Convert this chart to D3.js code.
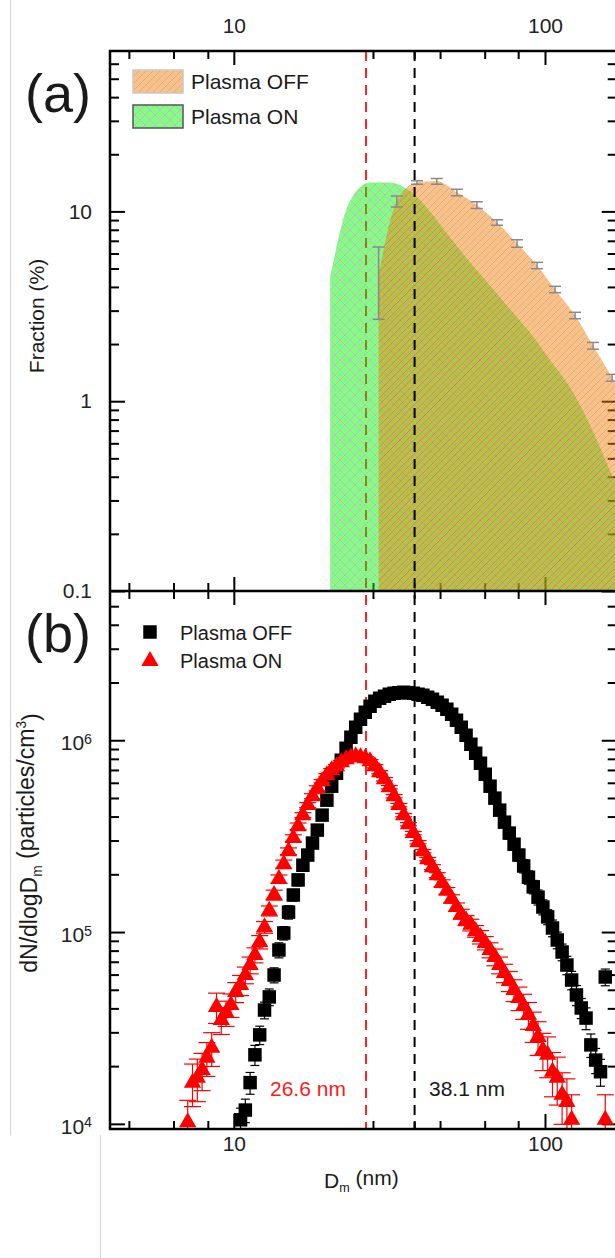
<!DOCTYPE html>
<html><head><meta charset="utf-8">
<script src="https://cdn.jsdelivr.net/npm/d3@7"></script>
<style>body{margin:0;background:#fff;} svg{display:block;font-family:"Liberation Sans",Arial,sans-serif;}</style>
</head><body><svg id="c" width="615" height="1258"></svg>
<script>
// ---------- DATA ----------
// Panel (a): size-resolved fraction (%)
const offFracD   = [29.2, 33.4, 38.8, 44.9, 52.1, 60.4, 70.1, 81.3, 94.3, 107.7, 124.9, 142.7, 164.3, 190];
const offFrac    = [4.6, 11.3, 14.2, 14.4, 12.6, 10.8, 8.75, 6.78, 5.19, 3.88, 2.83, 1.96, 1.33, 0.85];
const offFracErr = [1.9, 0.75, 0.3, 0.5, 0.5, 0.43, 0.3, 0.3, 0.2, 0.15, 0.11, 0.08, 0.055, 0.04];
const onFracD    = [20.4, 23.6, 27.4, 31.7, 36.8, 42.7, 49.5, 57.4, 66.6, 77.2, 89.5, 103.8, 120.4, 139.6, 161.8, 187.7];
const onFrac     = [4.5, 11.3, 14.2, 14.2, 12.8, 10.0, 7.3, 5.4, 4.07, 3.05, 2.3, 1.65, 1.18, 0.75, 0.43, 0.25];

// Panel (b): SMPS size bins (nm)
const sizeBins = [7.109,7.366,7.632,7.908,8.193,8.489,8.797,9.115,9.445,9.786,
  10.14,10.51,10.89,11.28,11.69,12.11,12.55,13.00,13.47,13.96,
  14.47,14.99,15.53,16.09,16.67,17.28,17.90,18.55,19.22,19.91,
  20.63,21.38,22.15,22.95,23.78,24.64,25.53,26.45,27.41,28.40,
  29.42,30.49,31.59,32.73,33.92,35.14,36.41,37.73,39.09,40.51,
  41.98,43.49,45.07,46.70,48.38,50.13,51.94,53.82,55.77,57.78,
  59.87,62.04,64.28,66.60,69.01,71.51,74.09,76.77,79.54,82.42,
  85.40,88.48,91.68,94.99,98.44,102.0,105.7,109.5,113.5,117.6,
  121.8,126.2,130.8,135.5,140.4,145.5,150.8,156.2];
// Plasma OFF dN/dlogDm (particles/cm3)
const offConc = [null,null,null,null,null,null,null,null,null,null,
  null,1.05e4,1.18e4,1.64e4,2.29e4,2.91e4,3.92e4,4.59e4,5.97e4,8.06e4,
  9.88e4,1.27e5,1.56e5,1.87e5,2.23e5,2.52e5,2.91e5,3.40e5,4.07e5,4.87e5,
  5.76e5,6.73e5,7.87e5,9.08e5,1.037e6,1.169e6,1.286e6,1.399e6,1.503e6,1.596e6,
  1.655e6,1.695e6,1.736e6,1.76e6,1.77e6,1.78e6,1.77e6,1.76e6,1.736e6,1.715e6,
  1.675e6,1.635e6,1.577e6,1.521e6,1.450e6,1.366e6,1.271e6,1.169e6,1.062e6,9.53e5,
  8.56e5,7.59e5,6.65e5,5.76e5,4.99e5,4.32e5,3.74e5,3.28e5,2.87e5,2.52e5,
  2.21e5,1.93e5,1.72e5,1.52e5,1.35e5,1.20e5,1.05e5,9.09e4,7.87e4,6.73e4,
  5.62e4,4.70e4,4.02e4,3.56e4,2.58e4,2.15e4,1.87e4,5.83e4];
const offRelErr = [null,null,null,null,null,null,null,null,null,null,
  null,0.15,0.14,0.13,0.12,0.11,0.10,0.10,0.09,0.09,
  0.08,0.08,0.07,0.07,0.06,0.06,0.05,0.05,0.04,0.04,
  0.03,0.03,0.03,0.02,0.02,0.02,0.02,0.02,0.02,0.02,
  0.02,0.02,0.02,0.02,0.02,0.02,0.02,0.02,0.02,0.02,
  0.02,0.02,0.02,0.02,0.03,0.03,0.03,0.03,0.04,0.04,
  0.04,0.05,0.05,0.05,0.06,0.06,0.06,0.07,0.07,0.07,
  0.08,0.08,0.08,0.09,0.09,0.09,0.10,0.10,0.10,0.11,
  0.11,0.12,0.12,0.13,0.14,0.15,0.16,0.10];
// Plasma ON dN/dlogDm (particles/cm3)
const onConc = [1.02e4,1.64e4,1.74e4,1.91e4,2.21e4,2.49e4,4.07e4,3.48e4,3.79e4,4.17e4,
  4.87e4,5.30e4,5.97e4,6.73e4,7.59e4,8.87e4,1.06e5,1.29e5,1.56e5,1.89e5,
  2.26e5,2.64e5,3.09e5,3.56e5,4.07e5,4.59e5,5.11e5,5.62e5,6.12e5,6.57e5,
  6.98e5,7.32e5,7.68e5,7.96e5,8.16e5,8.25e5,8.16e5,8.06e5,7.77e5,7.32e5,
  6.81e5,6.26e5,5.69e5,5.11e5,4.59e5,4.07e5,3.65e5,3.28e5,2.94e5,2.64e5,
  2.40e5,2.18e5,1.98e5,1.80e5,1.64e5,1.49e5,1.35e5,1.24e5,1.15e5,1.09e5,
  1.01e5,9.42e4,8.77e4,8.06e4,7.41e4,6.73e4,6.12e4,5.56e4,4.99e4,4.53e4,
  4.12e4,3.70e4,3.24e4,2.84e4,2.43e4,2.29e4,1.87e4,1.74e4,1.42e4,1.30e4,
  1.05e4,null,null,null,null,null,null,1.05e4];
const onRelErr = [0.30,0.25,0.25,0.22,0.20,0.20,0.18,0.16,0.15,0.14,
  0.12,0.12,0.10,0.10,0.09,0.08,0.07,0.06,0.06,0.05,
  0.05,0.04,0.04,0.04,0.03,0.03,0.03,0.03,0.02,0.02,
  0.02,0.02,0.02,0.02,0.02,0.02,0.02,0.02,0.02,0.02,
  0.02,0.02,0.02,0.02,0.02,0.02,0.02,0.02,0.02,0.02,
  0.02,0.03,0.03,0.04,0.04,0.05,0.05,0.06,0.06,0.07,
  0.07,0.08,0.08,0.09,0.10,0.10,0.11,0.12,0.13,0.14,
  0.15,0.16,0.18,0.20,0.22,0.24,0.26,0.28,0.30,0.32,
  0.35,null,null,null,null,null,null,0.35];

const peakOn = 26.6, peakOff = 38.1;
const peakOnLabel = "26.6 nm", peakOffLabel = "38.1 nm";
const xMajorTicks = [10, 100];
const xMinorTicks = [4.6, 6.4, 8.25, 28, 38, 46, 64, 82];
const fracTicks = [0.1, 1, 10];
const fracTickLabels = ["0.1", "1", "10"];
const concTicks = [1e4, 1e5, 1e6];
const seriesNames = ["Plasma OFF", "Plasma ON"];

// ---------- LAYOUT ----------
const L = 110, R = 616.7, aT = 51, mid = 591, bB = 1129;
const svg = d3.select("#c");
const defs = svg.append("defs");
const x = d3.scaleLog().domain([4, 170]).range([L, R]);
const yA = d3.scaleLog().domain([0.1, 70]).range([mid, aT]);
const yB = d3.scaleLog().domain([9.4e3, 6e6]).range([bB, mid]);

// screenshot frame lines
svg.append("line").attr("x1",10.5).attr("x2",10.5).attr("y1",0).attr("y2",1135).attr("stroke","#d4d4d4");
svg.append("line").attr("x1",100.5).attr("x2",100.5).attr("y1",1135).attr("y2",1258).attr("stroke","#d4d4d4");

defs.append("clipPath").attr("id","clipA").append("rect").attr("x",L).attr("y",aT).attr("width",R-L).attr("height",mid-aT);
defs.append("clipPath").attr("id","clipB").append("rect").attr("x",L).attr("y",mid).attr("width",R-L).attr("height",bB-mid);

const pO = defs.append("pattern").attr("id","patOff").attr("patternUnits","userSpaceOnUse").attr("width",7).attr("height",7);
pO.append("rect").attr("width",7).attr("height",7).attr("fill","#FF8000");
pO.append("path").attr("d","M-1,1 L1,-1 M0,7 L7,0 M6,8 L8,6").attr("stroke","#6c6c6c").attr("stroke-width",1);
const pG = defs.append("pattern").attr("id","patOn").attr("patternUnits","userSpaceOnUse").attr("width",10).attr("height",10);
pG.append("rect").attr("width",10).attr("height",10).attr("fill","#00FF00");
pG.append("path").attr("d","M0,0 L10,10 M10,0 L0,10").attr("stroke","#7a7a7a").attr("stroke-width",1);

// ---------- TICKS (drawn under areas) ----------
const tickStyle = g => { g.select(".domain").remove(); g.selectAll(".tick line").attr("stroke","#000").attr("stroke-width",2); g.selectAll("text").attr("fill","#222").attr("font-size",21); };
const minorA = [], minorB = [];
[0.1,1,10].forEach(d => [2,3,4,5,6,7,8,9].forEach(m => { if (d*m < 70) minorA.push(d*m); }));
[1e3,1e4,1e5,1e6].forEach(d => [2,3,4,5,6,7,8,9].forEach(m => { const v=d*m; if (v>9.4e3 && v<6e6) minorB.push(v); }));

// top axis (a)
svg.append("g").attr("transform",`translate(0,${aT})`).call(d3.axisTop(x).tickValues(xMajorTicks).tickSize(-14).tickFormat(d3.format("d"))).call(tickStyle)
  .selectAll("text").attr("y",-18);
svg.append("g").attr("transform",`translate(0,${aT})`).call(d3.axisTop(x).tickValues(xMinorTicks).tickSize(-8).tickFormat("")).call(tickStyle);
// bottom of (a)
svg.append("g").attr("transform",`translate(0,${mid})`).call(d3.axisBottom(x).tickValues(xMajorTicks).tickSize(-14).tickFormat("")).call(tickStyle);
svg.append("g").attr("transform",`translate(0,${mid})`).call(d3.axisBottom(x).tickValues(xMinorTicks).tickSize(-8).tickFormat("")).call(tickStyle);
// top of (b)
svg.append("g").attr("transform",`translate(0,${mid})`).call(d3.axisTop(x).tickValues(xMajorTicks).tickSize(-14).tickFormat("")).call(tickStyle);
svg.append("g").attr("transform",`translate(0,${mid})`).call(d3.axisTop(x).tickValues(xMinorTicks).tickSize(-8).tickFormat("")).call(tickStyle);
// bottom axis (b)
svg.append("g").attr("transform",`translate(0,${bB})`).call(d3.axisBottom(x).tickValues(xMajorTicks).tickSize(-15).tickFormat(d3.format("d"))).call(tickStyle)
  .selectAll("text").attr("y",22).attr("dy",null);
svg.append("g").attr("transform",`translate(0,${bB})`).call(d3.axisBottom(x).tickValues(xMinorTicks).tickSize(-8).tickFormat("")).call(tickStyle);
// left/right (a)
svg.append("g").attr("transform",`translate(${L},0)`).call(d3.axisLeft(yA).tickValues(fracTicks).tickSize(-15).tickPadding(18).tickFormat((d,i)=>fracTickLabels[i])).call(tickStyle);
svg.append("g").attr("transform",`translate(${L},0)`).call(d3.axisLeft(yA).tickValues(minorA).tickSize(-9).tickFormat("")).call(tickStyle);
svg.append("g").attr("transform",`translate(${R},0)`).call(d3.axisRight(yA).tickValues(fracTicks).tickSize(-15).tickFormat("")).call(tickStyle);
svg.append("g").attr("transform",`translate(${R},0)`).call(d3.axisRight(yA).tickValues(minorA).tickSize(-9).tickFormat("")).call(tickStyle);
// left/right (b)
const gLB = svg.append("g").attr("transform",`translate(${L},0)`).call(d3.axisLeft(yB).tickValues(concTicks).tickSize(-15).tickPadding(18).tickFormat(()=>"10")).call(tickStyle);
gLB.selectAll(".tick text").append("tspan").attr("dy","-0.45em").attr("font-size","0.68em").text(d=>Math.round(Math.log10(d)));
gLB.selectAll(".tick text").attr("dy","0.45em");
svg.append("g").attr("transform",`translate(${L},0)`).call(d3.axisLeft(yB).tickValues(minorB).tickSize(-9).tickFormat("")).call(tickStyle);
svg.append("g").attr("transform",`translate(${R},0)`).call(d3.axisRight(yB).tickValues(concTicks).tickSize(-15).tickFormat("")).call(tickStyle);
svg.append("g").attr("transform",`translate(${R},0)`).call(d3.axisRight(yB).tickValues(minorB).tickSize(-9).tickFormat("")).call(tickStyle);

// red dashed line (under areas)
svg.append("line").attr("x1",x(peakOn)).attr("x2",x(peakOn)).attr("y1",aT).attr("y2",bB)
  .attr("stroke","#FF2020").attr("stroke-width",2).attr("stroke-dasharray","10,7");

// ---------- PANEL (a) AREAS ----------
const gA = svg.append("g").attr("clip-path","url(#clipA)");
const area = d3.area().x(d=>x(d[0])).y0(mid).y1(d=>yA(d[1])).curve(d3.curveMonotoneX);
gA.append("path").datum(d3.zip(onFracD,onFrac)).attr("d",area).attr("fill","url(#patOn)").attr("opacity",0.5);
gA.append("path").datum(d3.zip(offFracD,offFrac)).attr("d",area).attr("fill","url(#patOff)").attr("opacity",0.5);
// error bars (a)
const eb = gA.append("g").attr("stroke","#8a8a8a").attr("stroke-width",1.5);
offFracD.forEach((d,i)=>{
  const cx=x(d), y1=yA(offFrac[i]+offFracErr[i]), y2=yA(offFrac[i]-offFracErr[i]);
  eb.append("line").attr("x1",cx).attr("x2",cx).attr("y1",y1).attr("y2",y2);
  eb.append("line").attr("x1",cx-6).attr("x2",cx+6).attr("y1",y1).attr("y2",y1);
  eb.append("line").attr("x1",cx-6).attr("x2",cx+6).attr("y1",y2).attr("y2",y2);
});

// black dashed line
svg.append("line").attr("x1",x(peakOff)).attr("x2",x(peakOff)).attr("y1",aT).attr("y2",bB)
  .attr("stroke","#000").attr("stroke-width",2).attr("stroke-dasharray","10,7");

// ---------- PANEL (b) ----------
const gB = svg.append("g").attr("clip-path","url(#clipB)");
function drawSeries(vals, errs, color, capW, symbol, size){
  const pts = sizeBins.map((d,i)=>({d, v:vals[i], e:errs[i]})).filter(p=>p.v!==null);
  const ge = gB.append("g").attr("stroke",color).attr("stroke-width",1.2);
  pts.forEach(p=>{
    const cx=x(p.d), y1=yB(p.v*(1+p.e)), y2=yB(p.v*(1-p.e));
    ge.append("line").attr("x1",cx).attr("x2",cx).attr("y1",y1).attr("y2",y2);
    ge.append("line").attr("x1",cx-capW/2).attr("x2",cx+capW/2).attr("y1",y1).attr("y2",y1);
    ge.append("line").attr("x1",cx-capW/2).attr("x2",cx+capW/2).attr("y1",y2).attr("y2",y2);
  });
  gB.append("g").selectAll("path").data(pts).join("path")
    .attr("transform",p=>`translate(${x(p.d)},${yB(p.v)})`)
    .attr("d",d3.symbol(symbol,size)).attr("fill",color);
}
drawSeries(offConc, offRelErr, "#000", 9, d3.symbolSquare, 182);
drawSeries(onConc, onRelErr, "#FF0000", 17, d3.symbolTriangle, 130);

// ---------- FRAME ----------
svg.append("rect").attr("x",L).attr("y",aT).attr("width",R-L).attr("height",bB-aT).attr("fill","none").attr("stroke","#000").attr("stroke-width",2.5);
svg.append("line").attr("x1",L).attr("x2",R).attr("y1",mid).attr("y2",mid).attr("stroke","#000").attr("stroke-width",2.5);

// ---------- TEXT ----------
const txt = (xx,yy,s,size,col)=>svg.append("text").attr("x",xx).attr("y",yy).attr("font-size",size).attr("fill",col||"#1a1a1a").text(s);
txt(25,112,"(a)",54);
txt(25,652,"(b)",54);
txt(270,1096,peakOnLabel,21,"#FF1a1a");
txt(429,1096,peakOffLabel,21,"#1a1a1a");

// legend (a)
const legA = [["url(#patOff)","#c9c9c9",70,seriesNames[0]],["url(#patOn)","#555",105,seriesNames[1]]];
legA.forEach(([f,st,yy,name])=>{
  svg.append("rect").attr("x",133).attr("y",yy).attr("width",50).attr("height",23).attr("fill","#fff");
  svg.append("rect").attr("x",133).attr("y",yy).attr("width",50).attr("height",23).attr("fill",f).attr("opacity",0.5);
  svg.append("rect").attr("x",133).attr("y",yy).attr("width",50).attr("height",23).attr("fill","none").attr("stroke",st).attr("stroke-width",1.5);
  txt(191,yy+19,name,21);
});
// legend (b)
svg.append("path").attr("transform","translate(150,632)").attr("d",d3.symbol(d3.symbolSquare,182)).attr("fill","#000");
svg.append("path").attr("transform","translate(150,661)").attr("d",d3.symbol(d3.symbolTriangle,130)).attr("fill","#FF0000");
txt(180,640,seriesNames[0],20);
txt(180,668,seriesNames[1],20);

// axis titles
svg.append("text").attr("transform","translate(44,316) rotate(-90)").attr("text-anchor","middle").attr("font-size",21).attr("fill","#1a1a1a").text("Fraction (%)");
const yt = svg.append("text").attr("transform","translate(37,843) rotate(-90)").attr("text-anchor","middle").attr("font-size",23).attr("fill","#1a1a1a");
yt.append("tspan").text("dN/dlogD");
yt.append("tspan").attr("font-size","0.6em").attr("dy","0.35em").text("m");
yt.append("tspan").attr("dy","-0.35em").text(" (particles/cm");
yt.append("tspan").attr("font-size","0.6em").attr("dy","-0.6em").text("3");
yt.append("tspan").attr("dy","0.6em").text(")");
const xt = svg.append("text").attr("x",324).attr("y",1188).attr("font-size",21).attr("fill","#1a1a1a");
xt.append("tspan").text("D");
xt.append("tspan").attr("font-size","0.6em").attr("dy","0.35em").text("m");
xt.append("tspan").attr("dy","-0.35em").text(" (nm)");
</script></body></html>
